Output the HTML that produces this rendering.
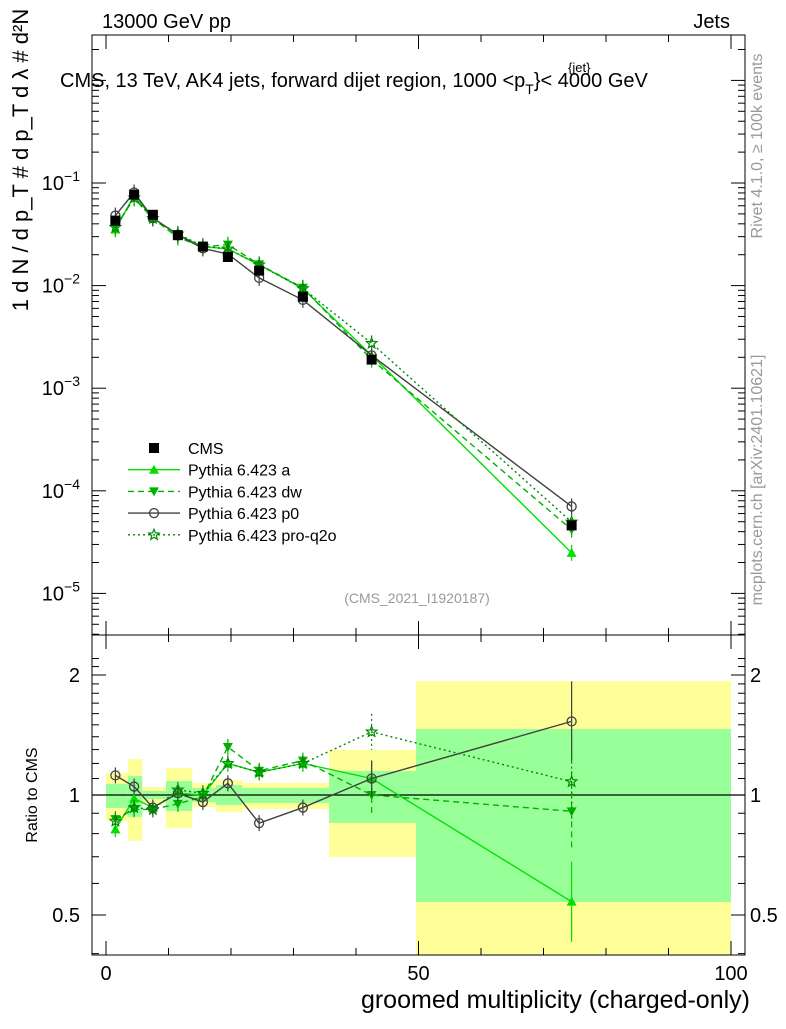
<!DOCTYPE html>
<html><head><meta charset="utf-8"><style>
body{margin:0;background:#fff;width:786px;height:1024px;overflow:hidden;font-family:"Liberation Sans",sans-serif}
</style></head><body>
<svg id="c" width="786" height="1024" xmlns="http://www.w3.org/2000/svg" font-family="Liberation Sans, sans-serif"></svg>
<script>
const xCenters=[1.5,4.5,7.5,11.5,15.5,19.5,24.5,31.5,42.5,74.5];
const binEdges=[0,3.5,5.8,9.6,13.8,17.6,21.8,35.7,49.6,100];
const cmsVals=[0.043,0.077,0.049,0.031,0.024,0.019,0.014,0.0078,0.0019,0.000046];
const ratioA=[0.82,0.98,0.93,1.01,1.00,1.20,1.14,1.20,1.10,0.54];
const ratioDw=[0.87,0.92,0.92,0.95,0.99,1.32,1.15,1.22,1.00,0.91];
const ratioP0=[1.12,1.05,0.93,1.01,0.96,1.07,0.85,0.93,1.10,1.53];
const ratioQ2o=[0.86,0.93,0.92,1.03,1.01,1.20,1.14,1.20,1.44,1.08];
const yelHi=[1.136,1.231,1.047,1.169,1.072,1.090,1.072,1.297,1.93];
const yelLo=[0.86,0.767,0.955,0.826,0.933,0.906,0.922,0.699,0.397];
const grnHi=[1.066,1.116,1.023,1.084,1.041,1.059,1.041,1.149,1.464];
const grnLo=[0.928,0.881,0.977,0.912,0.960,0.944,0.955,0.851,0.539];
const mainTicks=[-1,-2,-3,-4,-5];
const xTicks=[0,50,100];
const rTicks=[0.5,1,2];

const svg=document.getElementById('c');const NS='http://www.w3.org/2000/svg';
function el(t,a,p){const e=document.createElementNS(NS,t);for(const k in a)e.setAttribute(k,a[k]);(p||svg).appendChild(e);return e;}
const L=92,R=745,T=35,MB=635,RB=955;
const X=v=>106+v*6.25;
const Y=v=>183-(Math.log10(v)+1)*102.6;
const YR=r=>795-Math.log10(r)*398.6;
const gb=el('g',{});

const cp=el('clipPath',{id:'rc'});el('rect',{x:L,y:MB,width:R-L,height:RB-MB},cp);
gb.setAttribute('clip-path','url(#rc)');
for(let i=0;i<yelHi.length;i++){
 const x0=X(binEdges[i]),x1=X(binEdges[i+1]);
 const y=el('rect',{x:x0,y:YR(yelHi[i]),width:x1-x0,height:YR(yelLo[i])-YR(yelHi[i]),fill:'#ffff99'},gb);
 
 const g=el('rect',{x:x0,y:YR(grnHi[i]),width:x1-x0,height:YR(grnLo[i])-YR(grnHi[i]),fill:'#99ff99'},gb);
 
}
el('line',{x1:L,x2:R,y1:YR(1),y2:YR(1),stroke:'#000','stroke-width':1.2});
const f1=el('rect',{x:L,y:T,width:R-L,height:MB-T,fill:'none',stroke:'#000','stroke-width':1});

const f2=el('rect',{x:L,y:MB,width:R-L,height:RB-MB,fill:'none',stroke:'#000','stroke-width':1});

for(let d=-6;d<=0;d++){for(let m=1;m<10;m++){const v=m*Math.pow(10,d);const y=Y(v);if(y<T||y>MB)continue;const len=m==1?14:7;
 el('line',{x1:L,x2:L+len,y1:y,y2:y,stroke:'#000'});el('line',{x1:R,x2:R-len,y1:y,y2:y,stroke:'#000'});}}
mainTicks.forEach(d=>{const t=el('text',{x:80,y:Y(Math.pow(10,d))+7,'text-anchor':'end','font-size':20});t.textContent='10';
 const s=el('tspan',{dy:-9,'font-size':14});s.textContent=String(d).replace('-','−');t.appendChild(s);
 });
for(let r=0.4;r<=2.3;r+=0.1){const y=YR(r);if(y<MB||y>RB)continue;const maj=Math.abs(r-0.5)<1e-6||Math.abs(r-1)<1e-6||Math.abs(r-2)<1e-6;const len=maj?14:7;
 el('line',{x1:L,x2:L+len,y1:y,y2:y,stroke:'#000'});el('line',{x1:R,x2:R-len,y1:y,y2:y,stroke:'#000'});}
rTicks.forEach(r=>{[80,750].forEach(x=>{const t=el('text',{x:x,y:YR(r)+7,'text-anchor':x==80?'end':'start','font-size':20});t.textContent=String(r);
 });});
for(let v=0;v<=100;v+=10){const x=X(v);const len=v%50==0?14:7;
 [[T,1],[MB,1],[MB,-1],[RB,-1]].forEach(([y,s])=>el('line',{x1:x,x2:x,y1:y,y2:y+s*len,stroke:'#000'}));}
xTicks.forEach(v=>{const t=el('text',{x:X(v),y:980,'text-anchor':'middle','font-size':20});t.textContent=v;
 });
const series=[
 {n:'pythia-a',r:ratioA,c:'#00e000',dash:'',m:'tri'},
 {n:'pythia-dw',r:ratioDw,c:'#00b000',dash:'6,4',m:'itri'},
 {n:'pythia-p0',r:ratioP0,c:'#404040',dash:'',m:'circ'},
 {n:'pythia-pro-q2o',r:ratioQ2o,c:'#008800',dash:'2,3',m:'star'}];
function marker(m,x,y,c,g){
 if(m=='tri')el('polygon',{points:`${x},${y-5} ${x-5},${y+4} ${x+5},${y+4}`,fill:c},g);
 else if(m=='itri')el('polygon',{points:`${x},${y+5} ${x-5},${y-4} ${x+5},${y-4}`,fill:c},g);
 else if(m=='circ')el('circle',{cx:x,cy:y,r:4.5,fill:'none',stroke:c,'stroke-width':1.3},g);
 else if(m=='star'){let p='';for(let k=0;k<10;k++){const a=-Math.PI/2+k*Math.PI/5,rr=k%2?2.4:5.5;p+=(x+rr*Math.cos(a))+','+(y+rr*Math.sin(a))+' ';}el('polygon',{points:p,fill:'none',stroke:c,'stroke-width':1.2},g);}
 else if(m=='sq')el('rect',{x:x-5,y:y-5,width:10,height:10,fill:c},g);
}
series.forEach(s=>{
 const g=el('g',{});
 const main=s.r.map((r,i)=>[X(xCenters[i]),Y(cmsVals[i]*r)]);
 const rat=s.r.map((r,i)=>[X(xCenters[i]),YR(r)]);
 [main,rat].forEach((pts,k)=>{el('polyline',{points:pts.map(p=>p.join(',')).join(' '),fill:'none',stroke:s.c,'stroke-width':1.4,'stroke-dasharray':s.dash},g);
  pts.forEach((p,i)=>{marker(s.m,p[0],p[1],s.c,g);const e=(k==1&&i>=8)?(i==9?40:18):8;el('line',{x1:p[0],x2:p[0],y1:p[1]-e,y2:p[1]+e,stroke:s.c,'stroke-width':1.2,'stroke-dasharray':s.dash},g);});});
});
const gc=el('g',{});
cmsVals.forEach((v,i)=>marker('sq',X(xCenters[i]),Y(v),'#000',gc));
const leg=[['CMS','sq','#000',''],['Pythia 6.423 a','tri','#00e000',''],['Pythia 6.423 dw','itri','#00b000','6,4'],['Pythia 6.423 p0','circ','#404040',''],['Pythia 6.423 pro-q2o','star','#008800','2,3']];
leg.forEach((e,i)=>{const y=448+i*21.7;const g=el('g',{});
 if(i>0)el('line',{x1:128,x2:180,y1:y,y2:y,stroke:e[2],'stroke-width':1.4,'stroke-dasharray':e[3]},g);
 marker(e[1],154,y,e[2],g);const t=el('text',{x:188,y:y+6,'font-size':16},g);t.textContent=e[0];});
function txt(s,a,name){const t=el('text',a);t.textContent=s;return t;}
txt('13000 GeV pp',{x:102,y:28,'font-size':20},'energy-label');
txt('Jets',{x:730,y:28,'font-size':20,'text-anchor':'end'},'jets-label');
const tt=txt('CMS, 13 TeV, AK4 jets, forward dijet region, 1000 <p',{x:60,y:87,'font-size':20},'plot-title');
const s1=el('tspan',{dy:7,'font-size':14});s1.textContent='T';tt.appendChild(s1);
const s2=el('tspan',{dy:-7,'font-size':20});s2.textContent='}< 4000 GeV';tt.appendChild(s2);
txt('{jet}',{x:568,y:72,'font-size':13},'title-sup');
txt('(CMS_2021_I1920187)',{x:417,y:603,'font-size':14,fill:'#999','text-anchor':'middle'},'analysis-id');
txt('groomed multiplicity (charged-only)',{x:750,y:1008,'font-size':25,'text-anchor':'end'},'x-axis-title');
txt('Ratio to CMS',{x:0,y:0,'font-size':16,'text-anchor':'middle',transform:'translate(37,795) rotate(-90)'},'ratio-y-title');
txt('1 d N / d p_T  # d p_T d λ  #  d²N',{x:0,y:0,'font-size':22,'text-anchor':'middle',transform:'translate(28,160) rotate(-90)'},'y-axis-title');
txt('Rivet 4.1.0, ≥ 100k events',{x:0,y:0,'font-size':16,fill:'#999','text-anchor':'middle',transform:'translate(762,146) rotate(-90)'},'rivet-label');
txt('mcplots.cern.ch [arXiv:2401.10621]',{x:0,y:0,'font-size':16,fill:'#999','text-anchor':'middle',transform:'translate(762,480) rotate(-90)'},'mcplots-label');
</script>
</body></html>
